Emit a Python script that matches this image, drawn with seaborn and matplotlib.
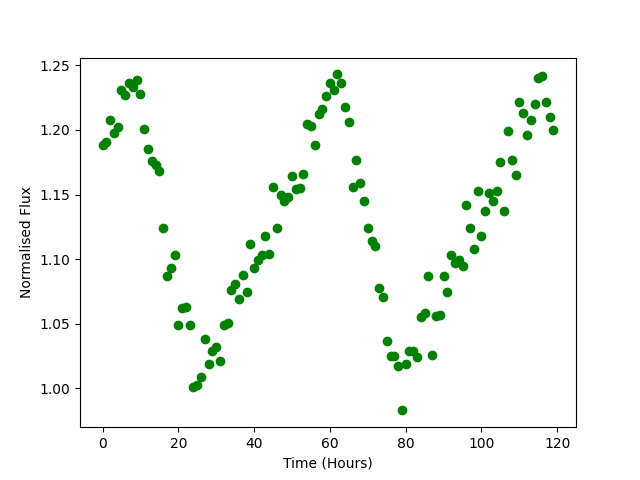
import matplotlib
matplotlib.use("Agg")
import matplotlib.pyplot as plt
import seaborn as sns
import numpy as np
import pandas as pd

hours = list(range(120))
flux = [
    1.188, 1.191, 1.208, 1.198, 1.202, 1.231, 1.227, 1.236, 1.233, 1.239,
    1.228, 1.201, 1.185, 1.176, 1.173, 1.168, 1.124, 1.087, 1.093, 1.103,
    1.049, 1.062, 1.063, 1.049, 1.001, 1.003, 1.009, 1.038, 1.019, 1.029,
    1.032, 1.021, 1.049, 1.051, 1.076, 1.081, 1.069, 1.088, 1.075, 1.112,
    1.093, 1.099, 1.103, 1.118, 1.104, 1.156, 1.124, 1.150, 1.145, 1.148,
    1.164, 1.154, 1.155, 1.166, 1.205, 1.203, 1.188, 1.212, 1.216, 1.226,
    1.236, 1.231, 1.243, 1.236, 1.218, 1.206, 1.156, 1.177, 1.159, 1.145,
    1.124, 1.114, 1.110, 1.078, 1.071, 1.037, 1.025, 1.025, 1.017, 0.983,
    1.019, 1.029, 1.029, 1.024, 1.055, 1.058, 1.087, 1.026, 1.056, 1.057,
    1.087, 1.075, 1.103, 1.097, 1.099, 1.095, 1.142, 1.124, 1.108, 1.153,
    1.118, 1.137, 1.151, 1.145, 1.153, 1.175, 1.137, 1.199, 1.177, 1.165,
    1.222, 1.213, 1.196, 1.208, 1.220, 1.240, 1.242, 1.222, 1.210, 1.200,
]

df = pd.DataFrame({"Time (Hours)": hours, "Normalised Flux": flux})

fig, ax = plt.subplots(figsize=(6.4, 4.8), dpi=100)
sns.scatterplot(data=df, x="Time (Hours)", y="Normalised Flux", ax=ax,
                color="green", s=36, edgecolor="green", linewidth=1)
ax.set_xlabel("Time (Hours)")
ax.set_ylabel("Normalised Flux")
ax.set_xticks([0, 20, 40, 60, 80, 100, 120])
fig.savefig("out.png", dpi=100)
